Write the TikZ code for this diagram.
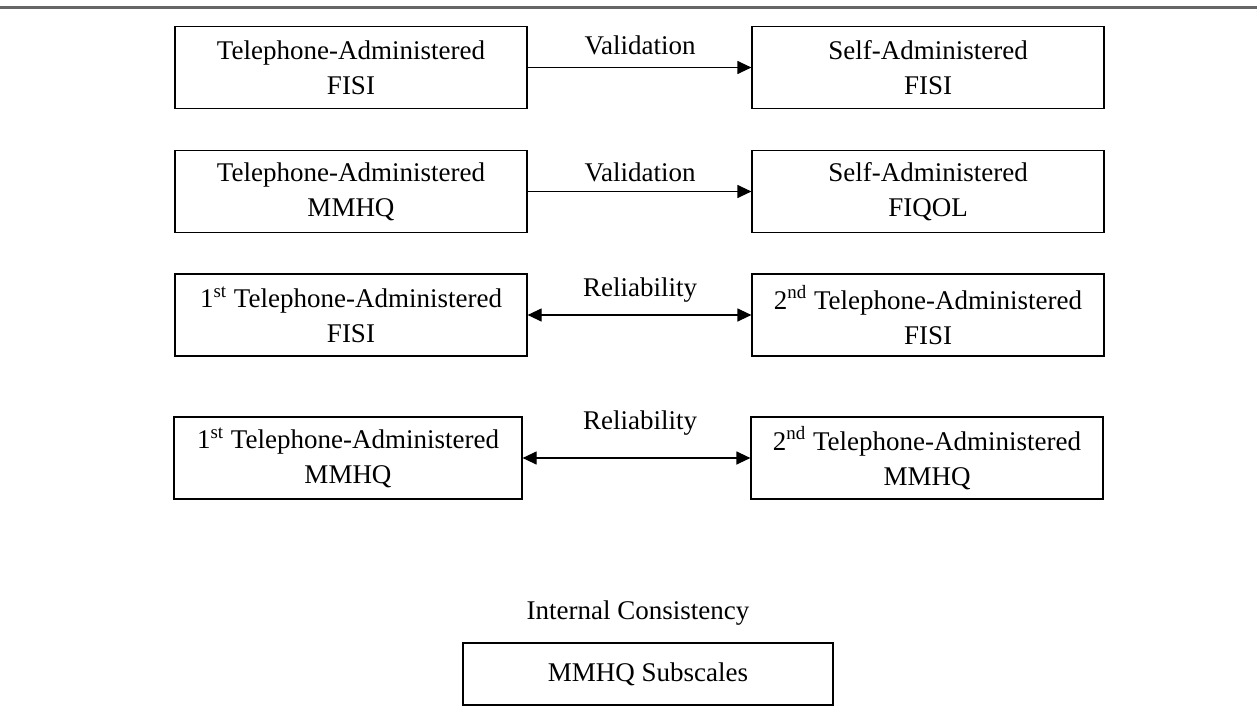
\documentclass[tikz,border=0pt]{standalone}
\usepackage{fontspec}
\setmainfont{Liberation Serif}
\usetikzlibrary{arrows.meta}

\tikzset{
    box/.style={draw, line width=0.6pt, minimum width=176pt, minimum height=41pt,
        align=center, inner sep=0pt},
    link/.style={line width=0.6pt, -{Triangle[length=7pt,width=6.5pt]}},
    twoway/.style={line width=0.6pt,
        {Triangle[length=7pt,width=6.5pt]}-{Triangle[length=7pt,width=6.5pt]}}
}

\begin{document}
\begin{tikzpicture}[x=0.5pt, y=-0.5pt, font=\fontsize{13.5}{17.5}\selectfont]
\useasboundingbox (0,0) rectangle (1257,706);

% Rule along the top
\draw[black!60, line width=1.5pt] (0,8) -- (1257,8);

% Validation: FISI
\node[box] (telfisi) at (351,67.5) {Telephone-Administered\\FISI};
\node[box] (selffisi) at (928,67.5) {Self-Administered\\FISI};
\node (valfisi) at (640,45) {Validation};
\draw[link] (telfisi) -- (selffisi);

% Validation: MMHQ against FIQOL
\node[box] (telmmhq) at (351,191.5) {Telephone-Administered\\MMHQ};
\node[box] (selffiqol) at (928,191.5) {Self-Administered\\FIQOL};
\node (valmmhq) at (640,172) {Validation};
\draw[link] (telmmhq) -- (selffiqol);

% Reliability: FISI
\node[box] (firstfisi) at (351,315) {1\textsuperscript{st} Telephone-Administered\\FISI};
\node[box] (secondfisi) at (928,315) {2\textsuperscript{nd} Telephone-Administered\\FISI};
\node (relfisi) at (640,290) {Reliability};
\draw[twoway] (firstfisi) -- (secondfisi);

% Reliability: MMHQ
\node[box, minimum width=174pt] (firstmmhq) at (348,458) {1\textsuperscript{st} Telephone-Administered\\MMHQ};
\node[box] (secondmmhq) at (927,458) {2\textsuperscript{nd} Telephone-Administered\\MMHQ};
\node (relmmhq) at (640,423) {Reliability};
\draw[twoway] (firstmmhq) -- (secondmmhq);

% Internal consistency
\node (intcons) at (638,613) {Internal Consistency};
\node[box, minimum width=185pt, minimum height=31pt] (subscales) at (648,674) {MMHQ Subscales};

\end{tikzpicture}
\end{document}
